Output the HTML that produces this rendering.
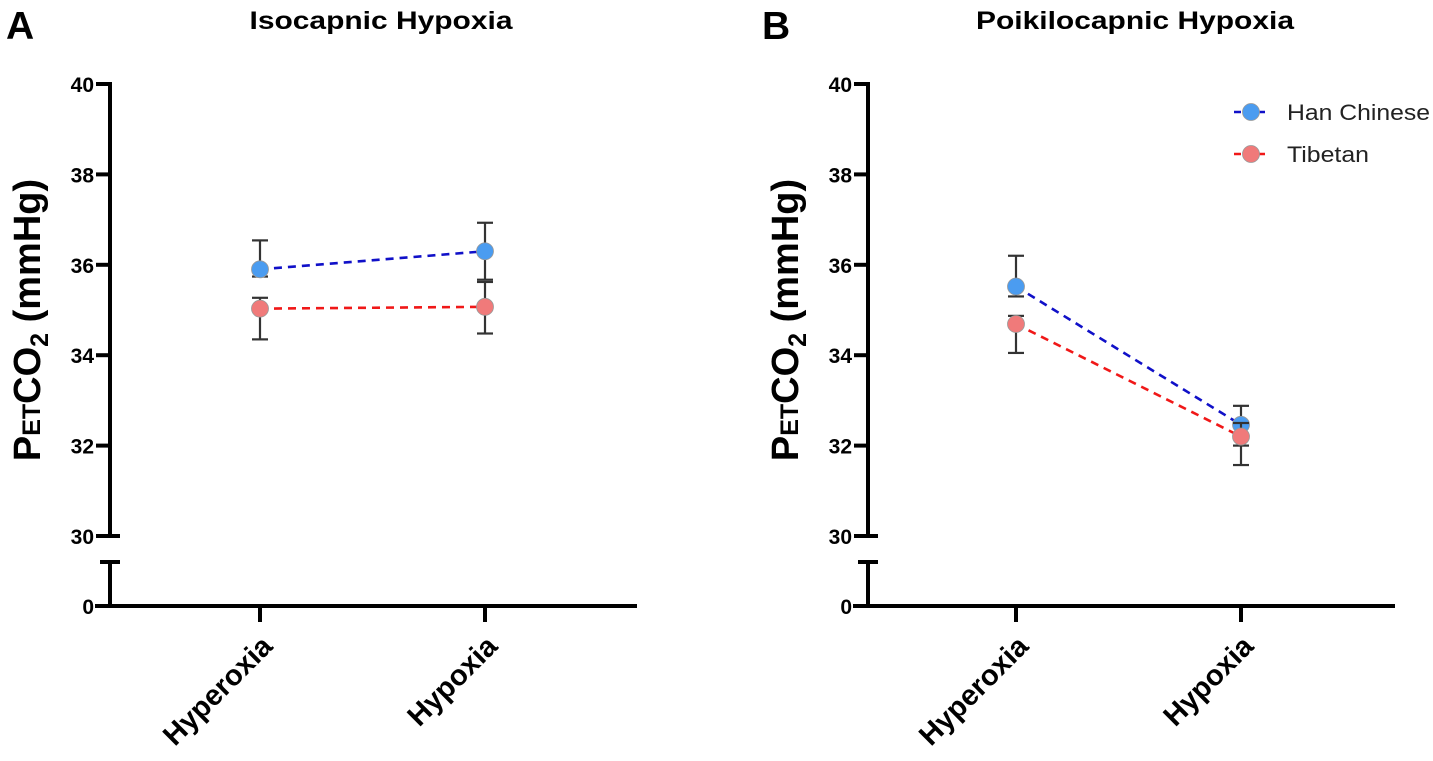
<!DOCTYPE html>
<html><head><meta charset="utf-8"><style>
html,body{margin:0;padding:0;background:#fff;}
svg{display:block;font-family:"Liberation Sans",Arial,sans-serif;}
</style></head><body>
<svg id="chart" width="1433" height="761" viewBox="0 0 1433 761" xmlns="http://www.w3.org/2000/svg"></svg>
<script>
const categories = ["Hyperoxia", "Hypoxia"];
const yTicks = [30, 32, 34, 36, 38, 40];
const seriesNames = ["Han Chinese", "Tibetan"];
// Panel A (Isocapnic)
const aHan = [35.9, 36.3];
const aHanUp = [36.54, 36.93];
const aHanLo = [35.74, 35.67];
const aTib = [35.03, 35.07];
const aTibUp = [35.27, 35.62];
const aTibLo = [34.35, 34.48];
// Panel B (Poikilocapnic)
const bHan = [35.52, 32.46];
const bHanUp = [36.2, 32.88];
const bHanLo = [35.3, 32.0];
const bTib = [34.69, 32.2];
const bTibUp = [34.87, 32.5];
const bTibLo = [34.05, 31.57];

const svg = document.getElementById('chart');
const NS = 'http://www.w3.org/2000/svg';
function mk(tag, attrs, parent, text){
  const e = document.createElementNS(NS, tag);
  for (const k in attrs) e.setAttribute(k, attrs[k]);
  if (text !== undefined) e.textContent = text;
  (parent || svg).appendChild(e);
  return e;
}
const yScale = v => 84 + (40 - v) * 45.2;
const zeroY = 606;

function panel(cfg){
  const g = mk('g', {});
  
  
  const ax = cfg.axisX;
  const xScale = i => cfg.catX[0] + i * (cfg.catX[1] - cfg.catX[0]);
  const L = mk('text', {x: cfg.letterX, y: 39, 'font-size': 39, 'font-weight': 'bold', fill: '#000'}, g, cfg.letter);
  
  
  const T = mk('text', {x: cfg.titleX, y: 29, 'font-size': 25, 'font-weight': 'bold', 'text-anchor': 'middle', fill: '#000', textLength: cfg.titleLen, lengthAdjust: 'spacingAndGlyphs'}, g, cfg.title);
  
  
  const yt = mk('text', {transform: `translate(${ax - 70},${320}) rotate(-90)`, 'font-size': 38, 'font-weight': 'bold', 'text-anchor': 'middle', fill: '#000'}, g);
  
  
  mk('tspan', {}, yt, 'P');
  mk('tspan', {'font-size': 25}, yt, 'ET');
  mk('tspan', {}, yt, 'CO');
  mk('tspan', {'font-size': 25, dy: 8}, yt, '2');
  mk('tspan', {dy: -8}, yt, ' (mmHg)');
  const axis = mk('g', {stroke: '#000', 'stroke-width': 4, fill: 'none'}, g);
  
  
  mk('line', {x1: ax, y1: yScale(40) - 2, x2: ax, y2: yScale(30)}, axis);
  mk('line', {x1: ax, y1: 562, x2: ax, y2: zeroY}, axis);
  mk('line', {x1: ax - 10, y1: 562, x2: ax + 10, y2: 562}, axis);
  yTicks.forEach(v => {
    const y = yScale(v);
    mk('line', {x1: ax - 14, y1: y, x2: v === 30 ? ax + 10 : ax, y2: y}, axis);
    const t = mk('text', {x: ax - 16, y: y + 8, 'font-size': 21, 'font-weight': 'bold', 'text-anchor': 'end', fill: '#000', stroke: 'none'}, g, String(v));
    
    
  });
  const t0 = mk('text', {x: ax - 16, y: zeroY + 8, 'font-size': 21, 'font-weight': 'bold', 'text-anchor': 'end', fill: '#000'}, g, '0');
  
  
  const xa = mk('g', {stroke: '#000', 'stroke-width': 4}, g);
  
  
  mk('line', {x1: ax - 15, y1: zeroY, x2: cfg.axisEnd, y2: zeroY}, xa);
  categories.forEach((c, i) => {
    const x = xScale(i);
    mk('line', {x1: x, y1: zeroY, x2: x, y2: zeroY + 16}, xa);
    const t = mk('text', {transform: `translate(${x + 14},${648}) rotate(-45)`, 'font-size': 29, 'font-weight': 'bold', 'text-anchor': 'end', fill: '#000'}, g, c);
    
    
  });
  const series = [
    {vals: cfg.han, up: cfg.hanUp, lo: cfg.hanLo, line: '#1010c8', fill: '#4b9cf0', name: 'han-chinese-series'},
    {vals: cfg.tib, up: cfg.tibUp, lo: cfg.tibLo, line: '#f01818', fill: '#f07a7a', name: 'tibetan-series'}
  ];
  series.forEach(s => {
    const sg = mk('g', {}, g);
    
    
    s.vals.forEach((v, i) => {
      const x = xScale(i);
      const eb = mk('g', {stroke: '#333', 'stroke-width': 2.2}, sg);
      
      
      mk('line', {x1: x, y1: yScale(s.up[i]), x2: x, y2: yScale(s.lo[i])}, eb);
      mk('line', {x1: x - 8, y1: yScale(s.up[i]), x2: x + 8, y2: yScale(s.up[i])}, eb);
      mk('line', {x1: x - 8, y1: yScale(s.lo[i]), x2: x + 8, y2: yScale(s.lo[i])}, eb);
    });
    const ln = mk('line', {x1: xScale(0), y1: yScale(s.vals[0]), x2: xScale(1), y2: yScale(s.vals[1]), stroke: s.line, 'stroke-width': 2.6, 'stroke-dasharray': '8,6'}, sg);
    
    
    s.vals.forEach((v, i) => {
      const c = mk('circle', {cx: xScale(i), cy: yScale(v), r: 8.5, fill: s.fill, stroke: '#999', 'stroke-width': 0.8}, sg);
      
      
    });
  });
  if (cfg.legend) {
    const lg = mk('g', {}, g);
    
    
    series.forEach((s, i) => {
      const y = 112 + i * 42;
      const le = mk('g', {}, lg);
      
      
      mk('line', {x1: 1234, y1: y, x2: 1268, y2: y, stroke: s.line, 'stroke-width': 2.6, 'stroke-dasharray': '7,5'}, le);
      mk('circle', {cx: 1251, cy: y, r: 8.5, fill: s.fill, stroke: '#999', 'stroke-width': 0.8}, le);
      const lt = mk('text', {x: 1287, y: y + 8, 'font-size': 22, fill: '#222'}, le, seriesNames[i]);
      if (i === 0) { lt.setAttribute('textLength', 143); lt.setAttribute('lengthAdjust', 'spacingAndGlyphs'); }
      else { lt.setAttribute('textLength', 82); lt.setAttribute('lengthAdjust', 'spacingAndGlyphs'); }
    });
  }
}

panel({name: 'panel-a-isocapnic', letter: 'A', letterX: 6, title: 'Isocapnic Hypoxia', titleX: 381, titleLen: 263,
  axisX: 110, axisEnd: 637, catX: [260, 485],
  han: aHan, hanUp: aHanUp, hanLo: aHanLo, tib: aTib, tibUp: aTibUp, tibLo: aTibLo, legend: false});
panel({name: 'panel-b-poikilocapnic', letter: 'B', letterX: 762, title: 'Poikilocapnic Hypoxia', titleX: 1135, titleLen: 318,
  axisX: 868, axisEnd: 1395, catX: [1016, 1241],
  han: bHan, hanUp: bHanUp, hanLo: bHanLo, tib: bTib, tibUp: bTibUp, tibLo: bTibLo, legend: true});
</script>
</body></html>
